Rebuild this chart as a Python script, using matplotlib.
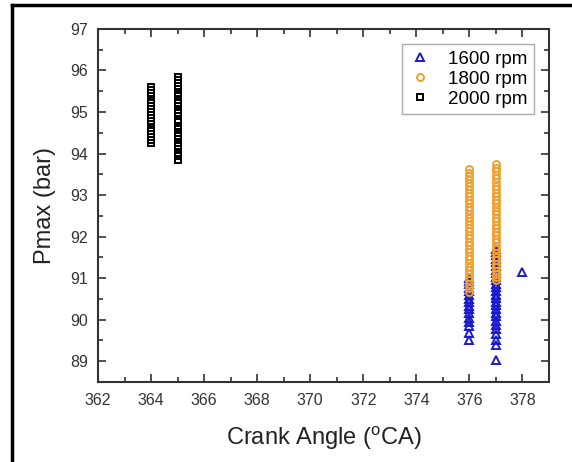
import matplotlib
matplotlib.use("Agg")
import matplotlib.pyplot as plt
from matplotlib.lines import Line2D
from matplotlib.ticker import MultipleLocator

plt.rcParams['font.family'] = ['Liberation Sans', 'DejaVu Sans']
plt.rcParams['mathtext.default'] = 'regular'

# crank angle of peak pressure (deg CA) and the peak pressure (bar) per cycle
ca_1600 = [376] * 16 + [377] * 27 + [378]
pmax_1600 = [91.0, 90.92, 90.85, 90.76, 90.68, 90.6, 90.5, 90.42, 90.33, 90.25,
             90.15, 90.05, 89.95, 89.85, 89.68, 89.5,
             91.7, 91.62, 91.55, 91.46, 91.38, 91.3, 91.2, 91.12, 91.03, 90.95,
             90.86, 90.78, 90.7, 90.6, 90.52, 90.43, 90.35, 90.25, 90.16, 90.08,
             89.98, 89.88, 89.78, 89.66, 89.52, 89.4, 89.02,
             91.15]

ca_1800 = [376] * 36 + [377] * 34
pmax_1800 = [93.62, 93.54, 93.46, 93.38, 93.3, 93.22, 93.14, 93.05, 92.97, 92.88,
             92.8, 92.72, 92.63, 92.55, 92.46, 92.38, 92.3, 92.21, 92.13, 92.04,
             91.96, 91.88, 91.79, 91.7, 91.62, 91.54, 91.45, 91.37, 91.28, 91.2,
             91.12, 91.03, 90.95, 90.86, 90.76, 90.66,
             93.75, 93.66, 93.57, 93.48, 93.4, 93.31, 93.22, 93.14, 93.05, 92.97,
             92.88, 92.8, 92.71, 92.62, 92.54, 92.45, 92.37, 92.28, 92.2, 92.11,
             92.03, 91.94, 91.86, 91.77, 91.69, 91.6, 91.52, 91.43, 91.35, 91.26,
             91.18, 91.1, 91.02, 90.95]

ca_2000 = [364] * 19 + [365] * 26
pmax_2000 = [95.6, 95.52, 95.45, 95.38, 95.3, 95.22, 95.15, 95.08, 95.0, 94.93,
             94.85, 94.78, 94.7, 94.62, 94.55, 94.47, 94.4, 94.32, 94.25,
             95.85, 95.77, 95.7, 95.62, 95.55, 95.46, 95.38, 95.3, 95.22, 95.15,
             95.06, 94.98, 94.9, 94.82, 94.75, 94.66, 94.58, 94.5, 94.42, 94.35,
             94.26, 94.18, 94.1, 94.02, 93.94, 93.85]

fig = plt.figure(figsize=(5.72, 4.62), dpi=100)
ax = fig.add_axes([0.1713, 0.1732, 0.7885, 0.7641])

ax.plot(ca_1600, pmax_1600, linestyle='none', marker='^', markersize=5.5,
        markerfacecolor='none', markeredgecolor='#1a1acc', markeredgewidth=1.4,
        label='1600 rpm')
ax.plot(ca_1800, pmax_1800, linestyle='none', marker='o', markersize=5,
        markerfacecolor='none', markeredgecolor='#f0a030', markeredgewidth=1.4,
        label='1800 rpm')
ax.plot(ca_2000, pmax_2000, linestyle='none', marker='s', markersize=4.5,
        markerfacecolor='none', markeredgecolor='black', markeredgewidth=1.4,
        label='2000 rpm')

ax.set_xlim(362, 379)
ax.set_ylim(88.5, 97)
ax.xaxis.set_major_locator(MultipleLocator(2))
ax.xaxis.set_minor_locator(MultipleLocator(1))
ax.yaxis.set_major_locator(MultipleLocator(1))
ax.yaxis.set_minor_locator(MultipleLocator(0.5))
ax.tick_params(which='both', direction='in', top=True, right=True,
               colors='#333333', width=1.2, labelsize=11.5)
ax.tick_params(which='major', length=6)
ax.tick_params(which='minor', length=3.5)
ax.tick_params(axis='x', pad=8)
ax.tick_params(axis='y', pad=7)
for s in ax.spines.values():
    s.set_color('#333333')
    s.set_linewidth(1.5)

ax.set_xlabel(r'Crank Angle ($^{o}$CA)', fontsize=17, color='#222222', labelpad=12)
ax.set_ylabel('Pmax (bar)', fontsize=17, color='#222222', labelpad=10)

leg = ax.legend(loc='upper right', fontsize=13.5, handletextpad=0.9,
                borderaxespad=0.8, fancybox=False, framealpha=1,
                handlelength=1.2, labelspacing=0.15, borderpad=0.35)
leg.get_frame().set_edgecolor('#aaaaaa')
leg.get_frame().set_linewidth(1.0)

# frame round the figure
fig.add_artist(Line2D([12 / 572, 1.0], [1 - 5 / 462, 1 - 5 / 462],
                      color='black', linewidth=2.5))
fig.add_artist(Line2D([12 / 572, 12 / 572], [0.0, 1 - 5 / 462],
                      color='black', linewidth=2.5))

fig.savefig('out.png', dpi=100)
